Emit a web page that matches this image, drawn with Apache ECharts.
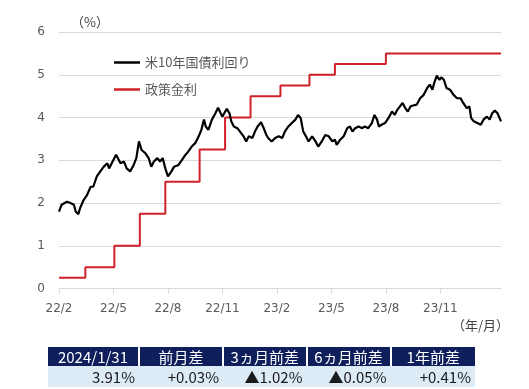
<!DOCTYPE html>
<html>
<head>
<meta charset="utf-8">
<script src="https://cdn.jsdelivr.net/npm/echarts@6/dist/echarts.min.js"></script>
<style>
  html, body { margin: 0; padding: 0; background: #fff; }
  #wrap { position: relative; width: 529px; height: 389px; overflow: hidden; }
  #chart { position: absolute; left: 0; top: 0; width: 529px; height: 389px; }
  #tbl { position: absolute; left: 48px; top: 347px; border-collapse: collapse; table-layout: fixed;
         font-family: "Noto Sans CJK JP", "Noto Sans", sans-serif; }
  #tbl th { background: #0e1f5b; color: #fff; font-weight: normal; font-size: 15px; height: 19px;
            padding: 0; text-align: center; border-left: 2px solid #fff; line-height: 19px; }
  #tbl th:first-child { border-left: none; }
  #tbl td { background: #ddebf7; color: #1a1a1a; font-size: 15px; height: 21px; padding: 0 4px 0 0;
            text-align: right; line-height: 21px; }
</style>
</head>
<body>
<div id="wrap">
  <div id="chart"></div>
  <table id="tbl"></table>
</div>
<script>
// ---- data (x = trading-day index from 2022/2/1, tick every 62 trading days) ----
const tickLabels = ["22/2", "22/5", "22/8", "22/11", "23/2", "23/5", "23/8", "23/11"];
const tickStep = 62;
const lastIndex = 503; // 2024/1/31

const us10yIdx = [0,3,9,13,17,19,22,24,28,32,36,39,43,47,51,55,57,60,65,70,74,77,81,85,88,91,94,98,102,105,108,112,115,118,121,124,128,131,136,140,144,147,151,155,159,162,165,167,170,174,178,181,184,186,188,191,194,196,199,203,206,210,213,216,220,223,226,230,233,236,238,242,246,250,254,257,261,265,269,272,275,276,278,281,284,288,292,295,299,303,307,311,314,316,320,324,328,331,334,337,341,345,348,352,356,359,362,364,367,371,375,379,382,385,388,391,394,397,400,403,407,411,415,419,422,425,427,430,433,435,438,440,441,445,449,453,457,460,464,467,469,472,476,480,483,487,490,493,496,499,503];
const us10yVal = [1.80,1.96,2.03,2.00,1.96,1.80,1.74,1.88,2.07,2.19,2.38,2.38,2.62,2.74,2.85,2.93,2.81,2.93,3.13,2.93,2.97,2.81,2.74,2.89,3.05,3.44,3.24,3.17,3.05,2.85,2.97,3.05,2.97,3.05,2.81,2.62,2.74,2.85,2.89,3.01,3.13,3.20,3.32,3.40,3.56,3.71,3.95,3.79,3.71,3.95,4.10,4.23,4.10,4.02,4.10,4.20,4.10,3.91,3.79,3.75,3.67,3.56,3.44,3.56,3.52,3.67,3.79,3.89,3.75,3.59,3.52,3.44,3.52,3.56,3.52,3.67,3.79,3.87,3.95,4.06,3.99,3.95,3.67,3.56,3.44,3.56,3.44,3.32,3.44,3.59,3.56,3.44,3.48,3.36,3.48,3.56,3.75,3.79,3.67,3.75,3.79,3.75,3.79,3.75,3.87,4.06,3.95,3.79,3.83,3.87,3.99,4.14,4.06,4.18,4.26,4.34,4.22,4.14,4.26,4.28,4.30,4.45,4.53,4.69,4.77,4.65,4.81,4.98,4.88,4.94,4.88,4.92,4.69,4.65,4.53,4.45,4.45,4.34,4.22,4.26,3.99,3.91,3.87,3.83,3.95,4.02,3.95,4.10,4.16,4.10,3.91];

const policyIdx = [0,30,63,92,121,160,189,218,252,285,314,372,503];
const policyVal = [0.25,0.50,1.00,1.75,2.50,3.25,4.00,4.50,4.75,5.00,5.25,5.50,5.50];

const tableHead = ["2024/1/31", "前月差", "3ヵ月前差", "6ヵ月前差", "1年前差"];
const tableRow = ["3.91%", "+0.03%", "▲1.02%", "▲0.05%", "+0.41%"];
const colWidths = [91, 84, 83.5, 84, 84.5];

// ---- table ----
(function () {
  const t = document.getElementById('tbl');
  let cg = '<colgroup>' + colWidths.map(w => '<col style="width:' + w + 'px">').join('') + '</colgroup>';
  let h = '<tr>' + tableHead.map(s => '<th>' + s + '</th>').join('') + '</tr>';
  let r = '<tr>' + tableRow.map(s => '<td>' + s + '</td>').join('') + '</tr>';
  t.innerHTML = cg + h + r;
  t.style.width = colWidths.reduce((a, b) => a + b, 0) + 'px';
})();

// ---- chart ----
const cats = [];
for (let i = 0; i <= lastIndex; i++) cats.push(String(i));
const us10y = us10yIdx.map((x, i) => [x, us10yVal[i]]);
const policy = policyIdx.map((x, i) => [x, policyVal[i]]);
const isTick = (i) => i % tickStep === 0 && (i / tickStep) < tickLabels.length;

const chart = echarts.init(document.getElementById('chart'), null, { renderer: 'canvas' });
chart.setOption({
  animation: false,
  backgroundColor: '#fff',
  grid: { left: 59, right: 28, top: 32, bottom: 100.5 },
  legend: {
    orient: 'vertical', left: 109, top: 51, itemWidth: 26, itemHeight: 14, itemGap: 14,
    icon: 'path://M0,6 L26,6 L26,8.5 L0,8.5 Z',
    textStyle: { fontFamily: 'Noto Sans CJK JP', fontSize: 13, color: '#595959' },
    data: ['米10年国債利回り', '政策金利']
  },
  xAxis: {
    type: 'category', data: cats, boundaryGap: false,
    axisLine: { lineStyle: { color: '#d9d9d9', width: 1 } },
    axisTick: { interval: (i) => isTick(i), length: 5, lineStyle: { color: '#d9d9d9' } },
    axisLabel: {
      interval: (i) => isTick(i), margin: 14,
      formatter: (v, i) => tickLabels[i / tickStep] || '',
      color: '#595959', fontFamily: 'DejaVu Sans', fontSize: 12
    },
    splitLine: { show: false }
  },
  yAxis: {
    type: 'value', min: 0, max: 6, interval: 1,
    axisLine: { show: false }, axisTick: { show: false },
    axisLabel: { margin: 14, color: '#595959', fontFamily: 'DejaVu Sans', fontSize: 12 },
    splitLine: { lineStyle: { color: '#d9d9d9', width: 1 } }
  },
  graphic: [
    { type: 'text', left: 71, top: 16, style: { text: '（%）', font: '13px "Noto Sans CJK JP"', fill: '#404040' } },
    { type: 'text', left: 452, top: 319, style: { text: '（年/月）', font: '13px "Noto Sans CJK JP"', fill: '#404040' } }
  ],
  series: [
    {
      name: '米10年国債利回り', type: 'line', data: us10y, symbol: 'none',
      lineStyle: { color: '#000', width: 2.2 }, itemStyle: { color: '#000' }, z: 3
    },
    {
      name: '政策金利', type: 'line', data: policy, symbol: 'none', step: 'end',
      lineStyle: { color: '#d0202a', width: 2 }, itemStyle: { color: '#d0202a' }, z: 2
    }
  ]
});
</script>
</body>
</html>
